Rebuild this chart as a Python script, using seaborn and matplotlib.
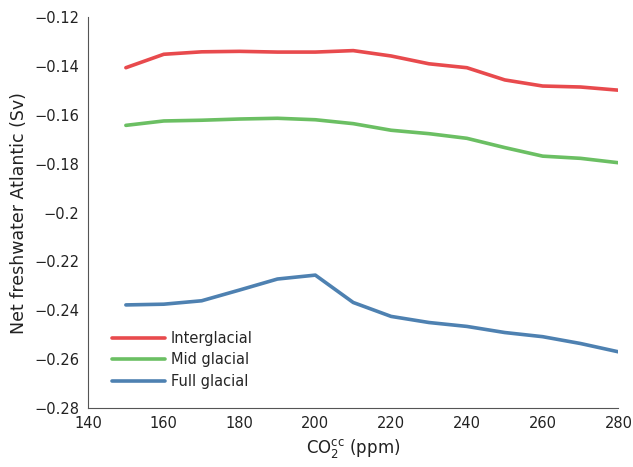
import numpy as np
import pandas as pd
import matplotlib
matplotlib.use("Agg")
import matplotlib.pyplot as plt
import seaborn as sns
from matplotlib.lines import Line2D

# Data
co2 = [150, 160, 170, 180, 190, 200, 210, 220, 230, 240, 250, 260, 270, 280]
interglacial = [-0.1407, -0.1352, -0.1342, -0.1340, -0.1343, -0.1343, -0.1337,
                -0.1359, -0.1391, -0.1407, -0.1457, -0.1482, -0.1486, -0.1499]
mid_glacial = [-0.1643, -0.1625, -0.1622, -0.1617, -0.1614, -0.1620, -0.1636,
               -0.1663, -0.1677, -0.1696, -0.1734, -0.1769, -0.1778, -0.1796]
full_glacial = [-0.2378, -0.2375, -0.2361, -0.2317, -0.2272, -0.2256, -0.2368,
                -0.2425, -0.2450, -0.2466, -0.2491, -0.2508, -0.2536, -0.2570]
series_names = ["Interglacial", "Mid glacial", "Full glacial"]
xticks = [140, 160, 180, 200, 220, 240, 260, 280]
yticks = [-0.28, -0.26, -0.24, -0.22, -0.2, -0.18, -0.16, -0.14, -0.12]
ytick_labels = ["\u22120.28", "\u22120.26", "\u22120.24", "\u22120.22", "\u22120.2",
                "\u22120.18", "\u22120.16", "\u22120.14", "\u22120.12"]

df = pd.DataFrame({
    "co2": co2 * 3,
    "flux": interglacial + mid_glacial + full_glacial,
    "scenario": [series_names[0]] * len(co2) + [series_names[1]] * len(co2)
                + [series_names[2]] * len(co2),
})

sns.set_style("white")
plt.rcParams['font.family'] = ['DejaVu Sans']

fig = plt.figure(figsize=(6.33, 4.67), dpi=100)
ax = fig.add_axes([0.139, 0.1263, 0.838, 0.837])

palette = {"Interglacial": "#E84A4D", "Mid glacial": "#6BBF63", "Full glacial": "#4E81B1"}
sns.lineplot(data=df, x="co2", y="flux", hue="scenario", palette=palette,
             linewidth=2.6, ax=ax, legend=False, sort=False)

ax.set_xlim(140, 280)
ax.set_ylim(-0.28, -0.12)
ax.set_xticks(xticks)
ax.set_xticklabels([str(t) for t in xticks])
ax.set_yticks(yticks)
ax.set_yticklabels(ytick_labels)
ax.tick_params(direction="in", length=4, width=0.8, color="#555555",
               labelsize=10.5, labelcolor="#222222", pad=6)
for s in ["top", "right"]:
    ax.spines[s].set_visible(False)
for s in ["left", "bottom"]:
    ax.spines[s].set_color("#555555")
    ax.spines[s].set_linewidth(0.8)

ax.set_ylabel("Net freshwater Atlantic (Sv)", fontsize=12.5, color="#222222", labelpad=5)
ax.set_xlabel(r"CO$_2^{\mathrm{cc}}$ (ppm)", fontsize=12, color="#222222")

handles = [Line2D([0], [0], color=palette[n], lw=2.6) for n in series_names]
ax.legend(handles, series_names, loc="lower left", bbox_to_anchor=(0.021, 0.015),
          frameon=False, fontsize=10.5, handlelength=3.6, labelspacing=0.45,
          handletextpad=0.4)

fig.savefig("out.png", dpi=100)
